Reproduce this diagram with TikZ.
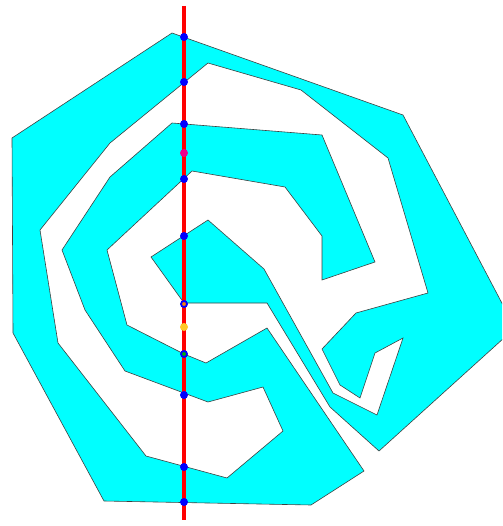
\documentclass[tikz,border=0pt]{standalone}
\definecolor{aqua}{RGB}{0,255,255}
\definecolor{hitblue}{RGB}{0,0,255}
\definecolor{midyellow}{RGB}{255,200,40}
\begin{document}
\begin{tikzpicture}[x=1pt, y=-1pt,
                    region/.style={fill=aqua, draw=black!75, line width=0.6pt},
                    cutline/.style={draw=red, line width=3.2pt},
                    hit/.style={circle, fill=hitblue, inner sep=0pt, minimum size=8pt},
                    ring/.style={circle, draw=hitblue, line width=1.8pt, inner sep=0pt, minimum size=6pt},
                    mid/.style={circle, inner sep=0pt, minimum size=8pt}]
    \useasboundingbox (0,0) rectangle (502,526);
    \clip (0,0) rectangle (502,526);
    \draw[region] (379,451) -- (515,328) -- (403,115) -- (172,33) -- (12,138) -- (13,333)
        -- (104,501) -- (311,505) -- (364,471) -- (267,328) -- (206,363) -- (184,354)
        -- (127,325) -- (107,250) -- (192,171) -- (285,187) -- (322,236) -- (322,280)
        -- (375,262) -- (322,135) -- (172,123) -- (110,177) -- (62,250) -- (85,310)
        -- (125,371) -- (208,402) -- (263,387) -- (283,431) -- (227,478) -- (146,456)
        -- (58,343) -- (40,230) -- (110,143) -- (208,63) -- (301,90) -- (388,158)
        -- (428,293) -- (356,313) -- (322,349) -- (340,385) -- (360,398) -- (375,353)
        -- (403,338) -- (377,415) -- (333,393) -- (264,269) -- (208,220) -- (151,257)
        -- (184,303) -- (267,303) -- (330,407) -- cycle;
    \coordinate (top) at (184,6);
    \coordinate (bot) at (184,520);
    \draw[cutline] (top) -- (bot);
    \foreach \y [count=\i] in {37,82,124,179,236,395,467,502}
        \node[hit] (h\i) at (184,\y) {};
    \node[mid, fill=magenta] (m1) at (184,153) {};
    \node[mid, fill=midyellow] (m2) at (184,327) {};
    \node[ring, fill=orange] (r1) at (184,304) {};
    \node[ring, fill=green!70!black] (r2) at (184,354) {};
\end{tikzpicture}
\end{document}
